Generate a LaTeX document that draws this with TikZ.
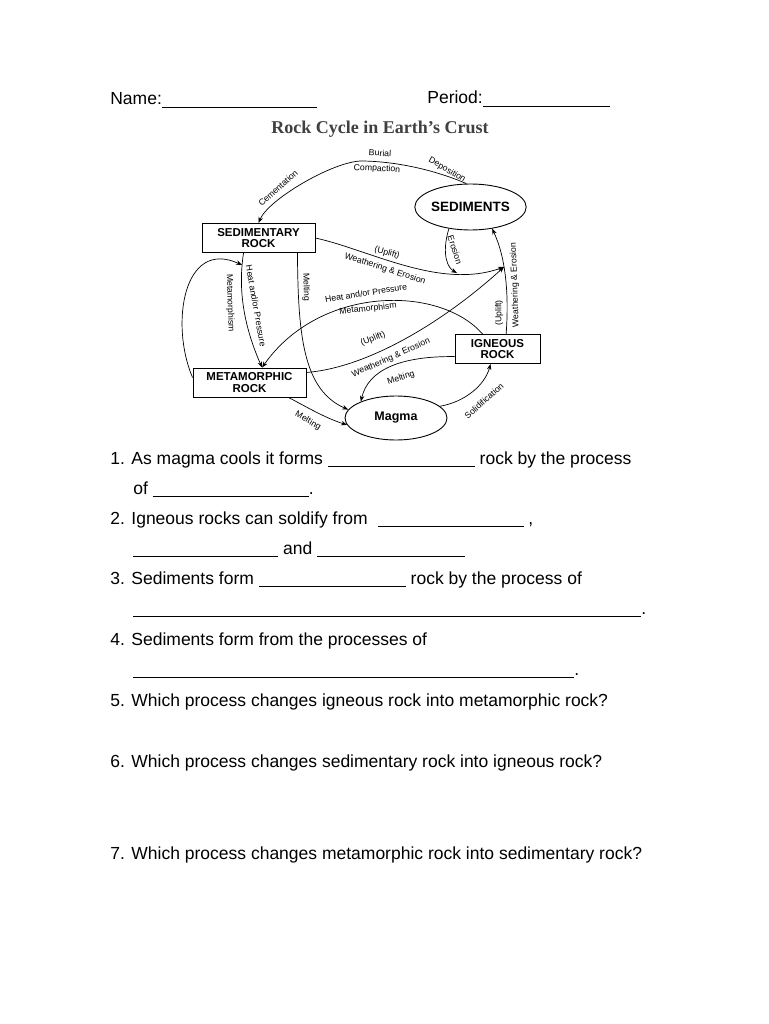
\documentclass[tikz,border=0pt]{standalone}
\usepackage{fontspec}
\setmainfont{Liberation Sans}
\newfontfamily\titlefont{Liberation Serif}
\usetikzlibrary{shapes.geometric,arrows.meta}
\newcommand{\fillin}[1]{\rule[-2.5pt]{#1pt}{0.9pt}}

\begin{document}
\begin{tikzpicture}[x=1pt,y=-1pt,line width=0.7pt,>={Stealth[length=6pt,width=4.5pt]},
  rockbox/.style={draw,line width=0.9pt,minimum width=#1,minimum height=29pt,inner sep=0pt,align=center,font=\fontsize{11.5}{11.5}\selectfont\bfseries},
  rockoval/.style={draw,ellipse,line width=0.9pt,minimum width=103pt,minimum height=46pt,inner sep=0pt},
  proc/.style={inner sep=0pt,font=\fontsize{8.7}{9}\selectfont},
  flow/.style={->},
  question/.style={anchor=base west,inner sep=0pt,font=\fontsize{17.5}{20}\selectfont}]
\useasboundingbox[fill=white] (0,0) rectangle (768,1024);

\node[question] (name) at (110,105) {Name:\fillin{155}}; \node[question] (period) at (427,104) {Period:\fillin{127}};
\node[anchor=base,inner sep=0pt,font=\titlefont\fontsize{18}{20}\selectfont\bfseries,text=black!75] (title) at (380,134) {Rock Cycle in Earth’s Crust};

\node[rockbox=113pt] (sedrock) at (258.5,238) {SEDIMENTARY\\ROCK};
\node[rockbox=113pt] (metrock) at (249.5,382.5) {METAMORPHIC\\ROCK};
\node[rockbox=85pt] (ignrock) at (497.5,349) {IGNEOUS\\ROCK};
\node[rockoval,font=\fontsize{13.5}{14}\selectfont\bfseries] (sediments) at (470.5,207) {SEDIMENTS};
\node[rockoval,minimum width=102pt,minimum height=44pt,font=\fontsize{12.5}{13}\selectfont\bfseries] (magma) at (396,418) {Magma};
\coordinate (merge) at (504,267); \coordinate (loopend) at (242,265); \coordinate (erosionend) at (457,273);

\draw[flow] (sediments.100) .. controls (435,170) and (395,161) .. (360,161) .. controls (330,163) and (268,200) .. (sedrock.north);
\draw[flow] (sedrock.east) .. controls (370,250) and (440,290) .. (merge);
\draw[flow] (sediments.-135) .. controls (441,255) and (448,268) .. (erosionend);
\draw[flow] (ignrock.60) .. controls (509,295) and (506,258) .. (sediments.-45);
\draw[flow] (metrock.10) .. controls (365,368) and (440,325) .. (merge);
\draw[flow] (ignrock.135) .. controls (440,285) and (320,285) .. (metrock.50);
\draw[flow] (sedrock.-135) .. controls (236,300) and (250,340) .. (metrock.50);
\draw[flow] (metrock.175) .. controls (170,325) and (183,238) .. (loopend);
\draw[flow] (sedrock.-21) .. controls (298,335) and (303,390) .. (magma.170);
\draw[flow] (metrock.-21) .. controls (305,406) and (325,418) .. (magma.188);
\draw[flow] (ignrock.-170) .. controls (400,356) and (368,370) .. (magma.155);
\draw[flow] (magma.15) .. controls (465,402) and (485,385) .. (ignrock.-115);

\node[proc,rotate=-3] (burial) at (380,153) {Burial}; \node[proc,rotate=-3] (compaction) at (377,169) {Compaction};
\node[proc,rotate=-30] (deposition) at (447,170) {Deposition}; \node[proc,rotate=42] (cementation) at (278,188) {Cementation};
\node[proc,rotate=-72] (erosion) at (455,250) {Erosion};
\node[proc,rotate=-15] (upliftS) at (387,253) {(Uplift)}; \node[proc,rotate=-18] (weatherS) at (385,269) {Weathering \& Erosion};
\node[proc,rotate=90] (upliftI) at (499,313) {(Uplift)}; \node[proc,rotate=92] (weatherI) at (515,285) {Weathering \& Erosion};
\node[proc,rotate=22] (upliftM) at (373,339) {(Uplift)}; \node[proc,rotate=24] (weatherM) at (391,358) {Weathering \& Erosion};
\node[proc,rotate=9] (heatI) at (366,293) {Heat and/or Pressure}; \node[proc,rotate=6] (metamI) at (368,309) {Metamorphism};
\node[proc,rotate=-80] (heatS) at (256,306) {Heat and/or Pressure}; \node[proc,rotate=-88] (metamS) at (230,303) {Metamorphism};
\node[proc,rotate=-88] (meltS) at (306,287) {Melting}; \node[proc,rotate=-30] (meltM) at (308,421) {Melting};
\node[proc,rotate=18] (meltI) at (401,378) {Melting}; \node[proc,rotate=42] (solid) at (484,401) {Solidification};

\node[question] (q1) at (110,464) {1. As magma cools it forms \fillin{147} rock by the process};
\node[question] (q1b) at (133,494) {of \fillin{156}.};
\node[question] (q2) at (110,524) {2. Igneous rocks can soldify from \ \fillin{146} ,};
\node[question] (q2b) at (133,554) {\fillin{145} and \fillin{148}};
\node[question] (q3) at (110,584) {3. Sediments form \fillin{147} rock by the process of};
\node[question] (q3b) at (133,614) {\fillin{508}.};
\node[question] (q4) at (110,645) {4. Sediments form from the processes of};
\node[question] (q4b) at (133,675) {\fillin{441}.};
\node[question] (q5) at (110,706) {5. Which process changes igneous rock into metamorphic rock?};
\node[question] (q6) at (110,767) {6. Which process changes sedimentary rock into igneous rock?};
\node[question] (q7) at (110,859) {7. Which process changes metamorphic rock into sedimentary rock?};
\end{tikzpicture}
\end{document}
